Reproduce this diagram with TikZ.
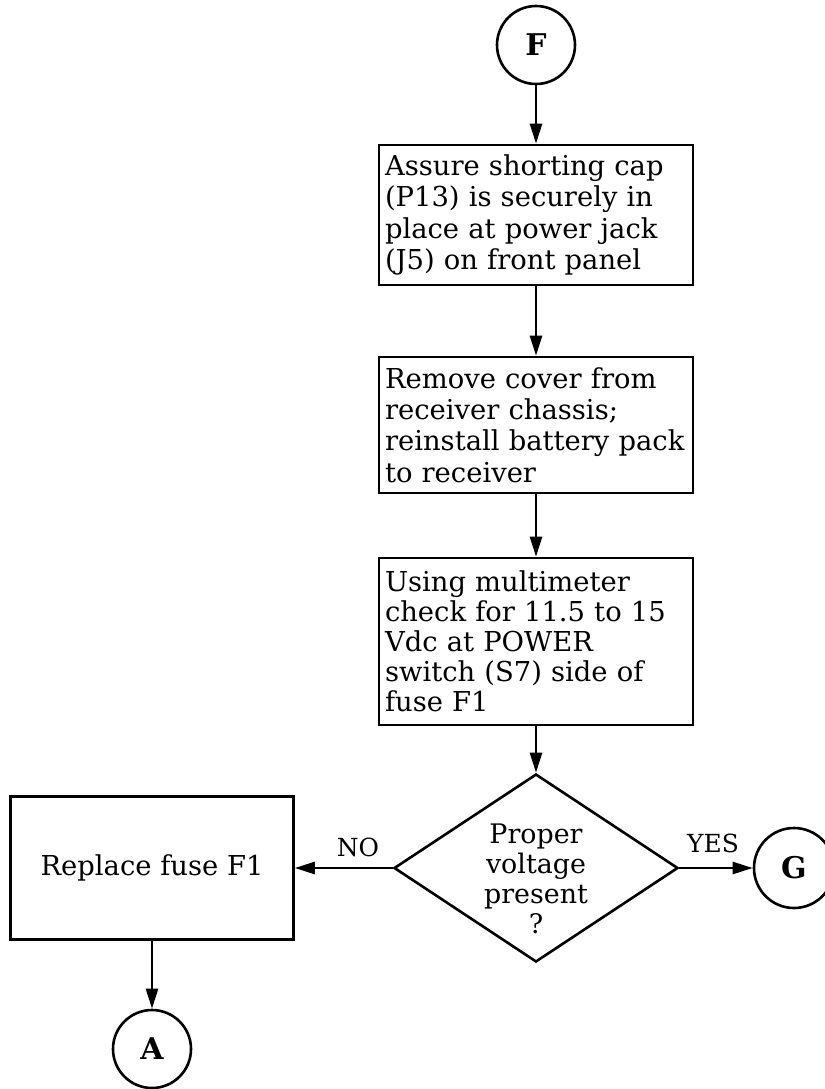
\documentclass[tikz,border=0pt]{standalone}
\usepackage{fontspec}
\setmainfont{DejaVu Serif}
\usetikzlibrary{shapes.geometric,arrows.meta}

\begin{document}
\begin{tikzpicture}[x=1bp,y=1bp,yscale=-1,xscale=1,
  conn/.style={circle,draw,line width=2.6bp,minimum size=78bp,inner sep=0pt,font=\fontsize{30}{32}\selectfont\bfseries},
  stepbox/.style={draw,line width=2.6bp,inner xsep=6bp,inner ysep=0pt,text width=302bp,align=left,font=\fontsize{27.5}{31.5}\selectfont},
  decbox/.style={diamond,draw,line width=2.6bp,inner sep=0pt,aspect=1.5,minimum width=284bp,minimum height=188bp},
  flow/.style={line width=2.6bp,-{Triangle[length=20bp,width=12bp]}},
  answer/.style={inner sep=0.75bp,font=\fontsize{25}{27}\selectfont}]
\useasboundingbox (0,0) rectangle (825,1089);

%Shape: Circle
\draw (536,45) node [conn] (F) {F};
%Shape: Rectangle
\draw (536,215) node [stepbox,minimum height=140bp] (cap) {Assure shorting cap\\(P13) is securely in\\place at power jack\\(J5) on front panel};
%Shape: Rectangle
\draw (536,425) node [stepbox,minimum height=136bp] (cover) {Remove cover from\\receiver chassis;\\reinstall battery pack\\to receiver};
%Shape: Rectangle
\draw (536,641.5) node [stepbox,minimum height=167bp,font=\fontsize{27.5}{30}\selectfont] (meter) {Using multimeter\\check for 11.5 to 15\\Vdc at POWER\\switch (S7) side of\\fuse F1};
%Shape: Diamond
\draw (536,868) node [decbox] (volt) {};
% Text Node
\draw (536,879) node [align=center,inner sep=0pt,font=\fontsize{27}{30}\selectfont] (volttext) {Proper\\voltage\\present\\?};
%Shape: Rectangle
\draw (152,868) node [draw,line width=2.6bp,minimum width=283bp,minimum height=143bp,font=\fontsize{27.5}{30}\selectfont] (fuse) {Replace fuse F1};
%Shape: Circle
\draw (152,1049) node [conn] (A) {A};
%Shape: Circle
\draw (794,868) node [conn,minimum size=80bp] (G) {G};

%Straight Lines
\draw [flow] (F) -- (cap);
\draw [flow] (cap) -- (cover);
\draw [flow] (cover) -- (meter);
\draw [flow] (meter) -- (volt);
\draw [flow] (volt.west) -- (fuse.east);
\draw [flow] (volt.east) -- (G.west);
\draw [flow] (fuse) -- (A);

% Text Node
\draw (358,847) node [answer] (no) {NO};
% Text Node
\draw (713,843) node [answer] (yes) {YES};

\end{tikzpicture}
\end{document}
